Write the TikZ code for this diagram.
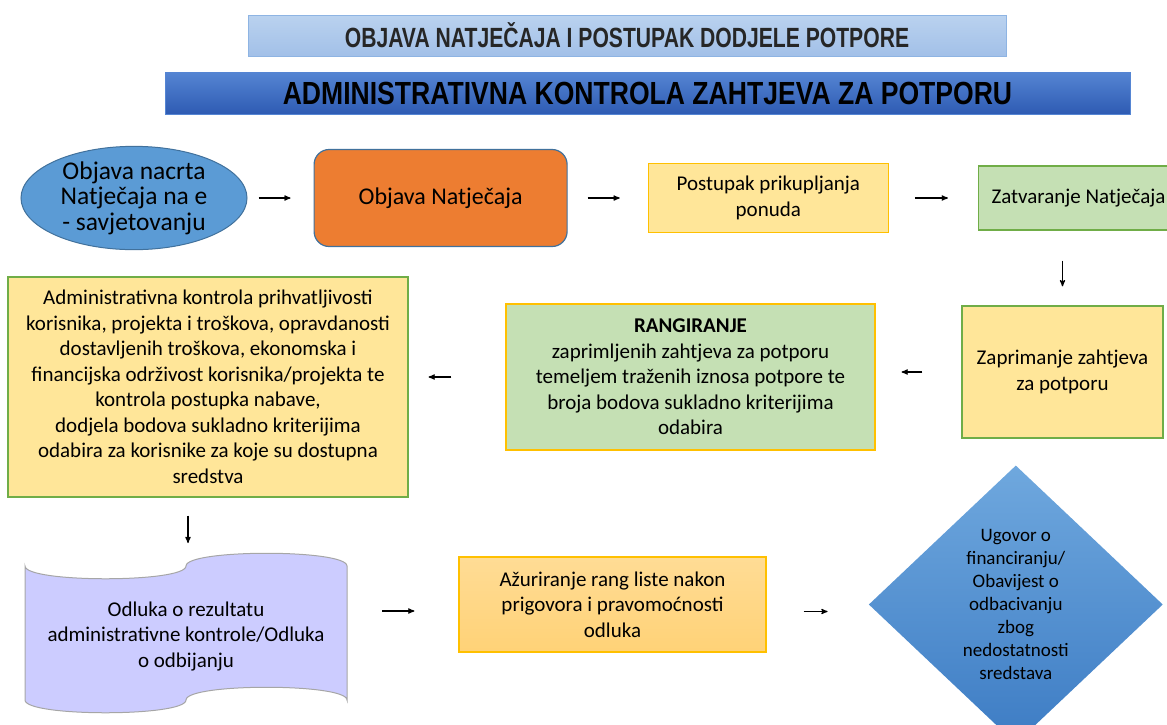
\documentclass[tikz,border=0pt]{standalone}
\usepackage{fontspec}
\setmainfont{Carlito}
\newfontfamily\headfont[FakeStretch=0.76]{Liberation Sans}
\newfontfamily\headfontwide[FakeStretch=0.83]{Liberation Sans}
\usepackage{xcolor}
\usepackage{tikz}
\usetikzlibrary{positioning, arrows, shapes.geometric}
\definecolor{lightbartop}{HTML}{BAD2EF}
\definecolor{lightbarbot}{HTML}{A2C0E8}
\definecolor{lightbarline}{HTML}{8EB4E3}
\definecolor{darkbartop}{HTML}{5585D3}
\definecolor{darkbarbot}{HTML}{2E5BB3}
\definecolor{ellblue}{HTML}{5B9BD5}
\definecolor{blueline}{HTML}{41719C}
\definecolor{puborange}{HTML}{ED7D31}
\definecolor{paleyellow}{HTML}{FFE699}
\definecolor{gold}{HTML}{FFC000}
\definecolor{palegreen}{HTML}{C5E0B4}
\definecolor{leafgreen}{HTML}{70AD47}
\definecolor{lavender}{HTML}{CCCCFF}
\definecolor{tapeline}{HTML}{A6A6A6}
\definecolor{updtop}{HTML}{FFDC95}
\definecolor{updbot}{HTML}{FFD277}
\definecolor{diatop}{HTML}{6FA8DE}
\definecolor{diabot}{HTML}{3D7CC4}
\tikzset{
>=stealth', % small filled heads
arr/.style={->, line width=1.2pt},
headbar/.style={rectangle, line width=1pt, inner sep=0pt},
box/.style={rectangle, draw, line width=1.2pt, align=center, inner sep=0pt,
  font=\fontsize{21}{25.5}\selectfont},
}

\begin{document}
\begin{tikzpicture}[x=1pt, y=-1pt]
\useasboundingbox (0,0) rectangle (1167,724);

% headings
\node[headbar, top color=lightbartop, bottom color=lightbarbot, draw=lightbarline,
  minimum width=758pt, minimum height=41pt, text=black!85,
  font=\headfont\bfseries\fontsize{27.8}{30}\selectfont] (head1) at (627,35.5)
  {OBJAVA NATJEČAJA I POSTUPAK DODJELE POTPORE};
\node[headbar, top color=darkbartop, bottom color=darkbarbot, draw=darkbartop,
  minimum width=965pt, minimum height=42pt,
  font=\headfontwide\bfseries\fontsize{32}{34}\selectfont] (head2) at (647.5,93)
  {ADMINISTRATIVNA KONTROLA ZAHTJEVA ZA POTPORU};

% first row
\node[ellipse, draw=blueline, fill=ellblue, line width=1pt, inner sep=0pt,
  minimum width=226pt, minimum height=96pt, align=center,
  font=\fontsize{25.5}{25.5}\selectfont] (draft) at (134,198)
  {Objava nacrta\\Natječaja na e\\- savjetovanju};
\node[box, rounded corners=15pt, draw=blueline, fill=puborange,
  minimum width=253pt, minimum height=97pt, font=\fontsize{24}{28}\selectfont,
  right=66pt of draft] (publish) {Objava Natječaja};
\node[box, draw=gold, fill=paleyellow, minimum width=240pt, minimum height=69pt,
  right=80pt of publish] (collect) {Postupak prikupljanja\\ponuda};
\node[box, draw=leafgreen, fill=palegreen, minimum width=200pt, minimum height=64pt,
  right=89pt of collect] (close) {Zatvaranje Natječaja};

% second row
\node[box, draw=leafgreen, fill=paleyellow, minimum width=201pt, minimum height=132pt]
  (receive) at (1062.5,372) {Zaprimanje zahtjeva\\za potporu};
\node[box, draw=gold, fill=palegreen, minimum width=369pt, minimum height=146pt]
  (rank) at (690.5,377) {\textbf{RANGIRANJE}\\zaprimljenih zahtjeva za potporu\\temeljem traženih iznosa potpore te\\broja bodova sukladno kriterijima\\odabira};
\node[box, draw=leafgreen, fill=paleyellow, minimum width=400pt, minimum height=220pt]
  (admin) at (208,387) {Administrativna kontrola prihvatljivosti\\korisnika, projekta i troškova, opravdanosti\\dostavljenih troškova, ekonomska i\\financijska održivost korisnika/projekta te\\kontrola postupka nabave,\\dodjela bodova sukladno kriterijima\\odabira za korisnike za koje su dostupna\\sredstva};

% third row
\path[draw=tapeline, fill=lavender, line width=1pt]
  (25,566) .. controls (25,583) and (186,583) .. (186,566)
  .. controls (186,549) and (347,549) .. (347,566) -- (347,700)
  .. controls (347,683) and (186,683) .. (186,700)
  .. controls (186,717) and (25,717) .. (25,700) -- cycle;
\node[align=center, inner sep=0pt, font=\fontsize{21}{25.5}\selectfont] (decision)
  at (186,636) {Odluka o rezultatu\\administrativne kontrole/Odluka\\o odbijanju};
\coordinate (dectop) at (188,556);
\coordinate (decright) at (347,611);
\node[box, draw=gold, top color=updtop, bottom color=updbot,
  minimum width=307pt, minimum height=95pt] (update) at (612.5,604.5)
  {Ažuriranje rang liste nakon\\prigovora i pravomoćnosti\\odluka};
\node[diamond, top color=diatop, bottom color=diabot, inner sep=0pt,
  minimum width=294pt, minimum height=278pt, align=center,
  font=\fontsize{19}{23}\selectfont, right=102pt of update] (contract)
  {Ugovor o\\financiranju/\\Obavijest o\\odbacivanju\\zbog\\nedostatnosti\\sredstava};

% connectors
\draw[arr, shorten <=11pt, shorten >=23pt] (draft) -- (publish);
\draw[arr, shorten <=20pt, shorten >=28pt] (publish) -- (collect);
\draw[arr, shorten <=26pt, shorten >=30pt] (collect) -- (close);
\draw[arr, shorten <=30pt, shorten >=19pt] (receive.north |- close.south) -- (receive.north);
\draw[arr, shorten <=39pt, shorten >=26pt] (receive.west) -- (receive.west -| rank.east);
\draw[arr, shorten <=54pt, shorten >=20pt] (rank.west) -- (rank.west -| admin.east);
\draw[arr, shorten <=18pt, shorten >=13pt] (admin.south -| dectop) -- (dectop);
\draw[arr, shorten <=35pt, shorten >=44pt] (decright) -- (decright -| update.west);
\draw[arr, shorten <=37pt, shorten >=41pt] ([yshift=-7pt]update.east) -- ([yshift=-7pt]update.east -| contract.west);
\end{tikzpicture}
\end{document}
